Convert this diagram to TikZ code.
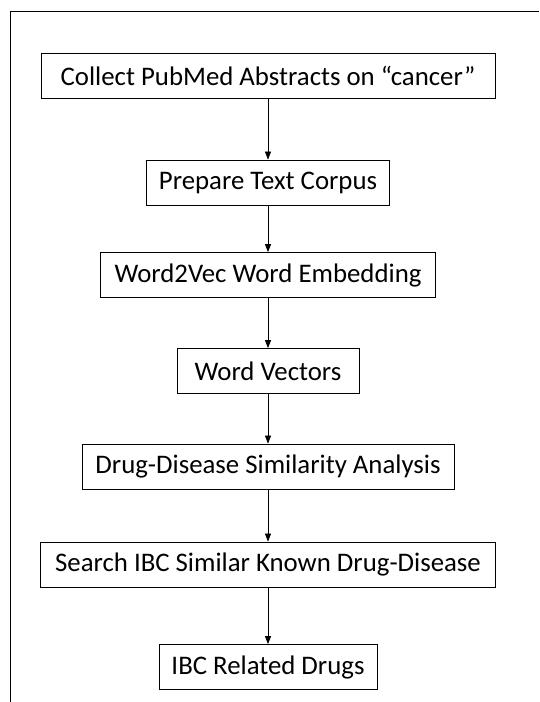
\documentclass[tikz,border=0pt]{standalone}
\usepackage{fontspec}
\setmainfont{Carlito}
\usetikzlibrary{arrows.meta, positioning}
\tikzset{
    stepBox/.style={draw, line width=0.8pt, minimum height=45pt, inner sep=0pt,
        font=\fontsize{26.8}{31}\selectfont},
    flowArrow/.style={-{Triangle[length=8pt, width=6pt]}, line width=0.7pt}
}

\begin{document}
\begin{tikzpicture}[x=1pt, y=-1pt]
    \useasboundingbox (0,0) rectangle (539,702);
    % frame
    \draw[line width=0.8pt] (539,11) -- (10,11) -- (10,702);
    % box centres
    \coordinate (c1) at (268, 76);
    \coordinate (c2) at (268, 182.5);
    \coordinate (c3) at (268, 275);
    \coordinate (c4) at (268, 371);
    \coordinate (c5) at (268, 466.5);
    \coordinate (c6) at (268, 564.5);
    \coordinate (c7) at (268, 667);
    \node[stepBox, minimum width=454pt] (b1) at (c1) {Collect PubMed Abstracts on “cancer”};
    \node[stepBox, minimum width=243pt] (b2) at (c2) {Prepare Text Corpus};
    \node[stepBox, minimum width=335pt] (b3) at (c3) {Word2Vec Word Embedding};
    \node[stepBox, minimum width=182pt] (b4) at (c4) {Word Vectors};
    \node[stepBox, minimum width=372pt] (b5) at (c5) {Drug-Disease Similarity Analysis};
    \node[stepBox, minimum width=455pt] (b6) at (c6) {Search IBC Similar Known Drug-Disease};
    \node[stepBox, minimum width=218pt] (b7) at (c7) {IBC Related Drugs};
    \draw[flowArrow] (b1) -- (b2);
    \draw[flowArrow] (b2) -- (b3);
    \draw[flowArrow] (b3) -- (b4);
    \draw[flowArrow] (b4) -- (b5);
    \draw[flowArrow] (b5) -- (b6);
    \draw[flowArrow] (b6) -- (b7);
\end{tikzpicture}
\end{document}
